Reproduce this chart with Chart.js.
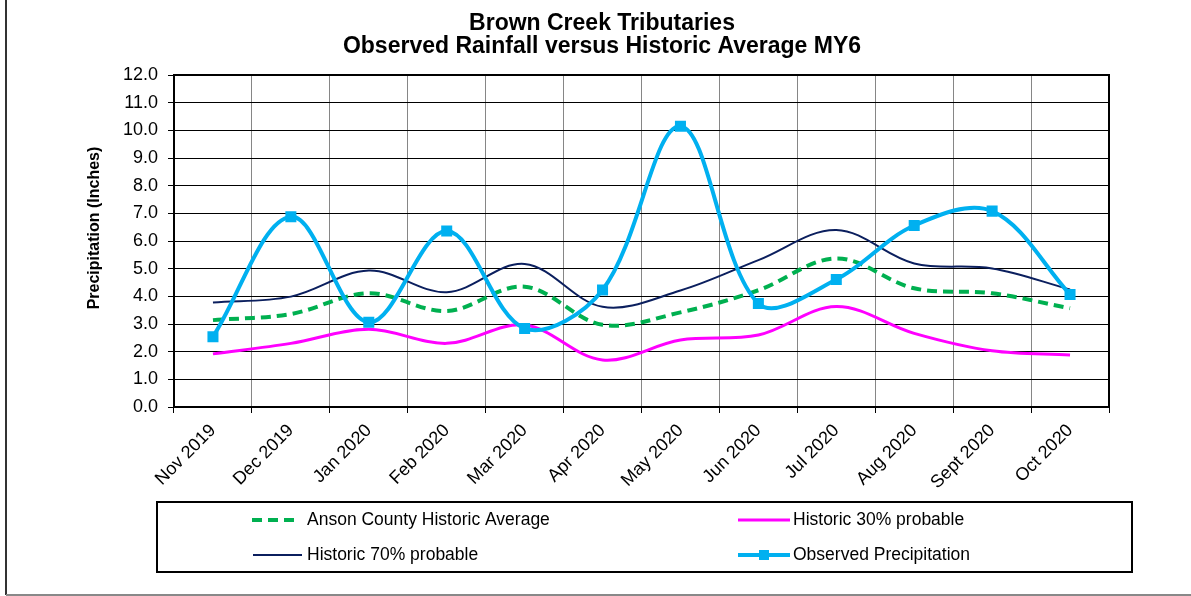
<!DOCTYPE html>
<html>
<head>
<meta charset="utf-8">
<title>Brown Creek Tributaries - Observed Rainfall versus Historic Average MY6</title>
<script src="https://cdn.jsdelivr.net/npm/chart.js@4.4.1/dist/chart.umd.min.js"></script>
<style>
  html, body { margin: 0; padding: 0; background: #ffffff; }
  #wrap { width: 1191px; height: 596px; position: relative; }
</style>
</head>
<body>
<div id="wrap"><canvas id="rainChart" width="1191" height="596"></canvas></div>
<script>
// Monthly precipitation, inches
const months = ['Nov 2019', 'Dec 2019', 'Jan 2020', 'Feb 2020', 'Mar 2020', 'Apr 2020',
                'May 2020', 'Jun 2020', 'Jul 2020', 'Aug 2020', 'Sept 2020', 'Oct 2020'];
const historicAverage = [3.14, 3.36, 4.11, 3.47, 4.35, 2.97, 3.42, 4.22, 5.37, 4.29, 4.11, 3.57];
const historic30 = [1.92, 2.30, 2.81, 2.30, 2.96, 1.70, 2.42, 2.60, 3.63, 2.66, 2.03, 1.88];
const historic70 = [3.78, 3.99, 4.93, 4.15, 5.17, 3.62, 4.21, 5.31, 6.40, 5.19, 5.01, 4.25];
const observed = [2.54, 6.88, 3.06, 6.36, 2.84, 4.23, 10.15, 3.74, 4.61, 6.56, 7.08, 4.07];

const yMin = 0, yMax = 12, yStep = 1;

const chartTitle = ['Brown Creek Tributaries', 'Observed Rainfall versus Historic Average MY6'];
const yAxisTitle = 'Precipitation (Inches)';

const FONT = '"Liberation Sans", Arial, sans-serif';

// Title, axis title, plot frame, outer frame and boxed two-column legend
const decorations = {
  id: 'decorations',
  beforeDraw(chart) {
    const ctx = chart.ctx;
    ctx.save();
    ctx.fillStyle = '#ffffff';
    ctx.fillRect(0, 0, chart.width, chart.height);
    ctx.restore();
  },
  afterDraw(chart) {
    const ctx = chart.ctx;
    const ca = chart.chartArea;
    ctx.save();

    // plot border
    ctx.strokeStyle = '#000000';
    ctx.lineWidth = 2;
    ctx.strokeRect(ca.left, ca.top, ca.right - ca.left, ca.bottom - ca.top);

    // outer frame (left and bottom edges)
    ctx.lineWidth = 2;
    ctx.strokeStyle = '#333333';
    ctx.beginPath(); ctx.moveTo(6, 0); ctx.lineTo(6, 595); ctx.stroke();
    ctx.strokeStyle = '#888888';
    ctx.beginPath(); ctx.moveTo(6, 595); ctx.lineTo(chart.width, 595); ctx.stroke();

    // chart title
    ctx.fillStyle = '#000000';
    ctx.font = 'bold 23px ' + FONT;
    ctx.textAlign = 'center';
    ctx.textBaseline = 'alphabetic';
    ctx.fillText(chartTitle[0], 602, 30);
    ctx.fillText(chartTitle[1], 602, 53);

    // y axis title
    ctx.save();
    ctx.translate(95, 228);
    ctx.rotate(-Math.PI / 2);
    ctx.font = 'bold 16px ' + FONT;
    ctx.textBaseline = 'middle';
    ctx.fillText(yAxisTitle, 0, 0);
    ctx.restore();

    // legend box
    ctx.lineWidth = 2;
    ctx.strokeStyle = '#000000';
    ctx.strokeRect(157, 502, 975, 70);

    const entries = [
      { ds: 0, x0: 252, x1: 299, tx: 307, y: 520 },
      { ds: 1, x0: 738, x1: 790, tx: 793, y: 520 },
      { ds: 2, x0: 253, x1: 302, tx: 307, y: 555 },
      { ds: 3, x0: 738, x1: 790, tx: 793, y: 555 }
    ];
    ctx.font = '17.5px ' + FONT;
    ctx.textAlign = 'left';
    ctx.textBaseline = 'middle';
    entries.forEach(e => {
      const d = chart.data.datasets[e.ds];
      ctx.save();
      ctx.strokeStyle = d.borderColor;
      ctx.lineWidth = d.borderWidth;
      ctx.setLineDash(d.borderDash || []);
      ctx.beginPath();
      ctx.moveTo(e.x0, e.y);
      ctx.lineTo(e.x1, e.y);
      ctx.stroke();
      ctx.restore();
      if (d.pointRadius > 0) {
        ctx.fillStyle = d.pointBackgroundColor;
        const s = 10;
        const cx = (e.x0 + e.x1) / 2;
        ctx.fillRect(cx - s / 2, e.y - s / 2, s, s);
      }
      ctx.fillStyle = '#000000';
      ctx.fillText(d.label, e.tx, e.y);
    });

    ctx.restore();
  }
};

const ctxEl = document.getElementById('rainChart');
new Chart(ctxEl, {
  type: 'line',
  data: {
    labels: months,
    datasets: [
      {
        label: 'Anson County Historic Average',
        data: historicAverage,
        borderColor: '#00B050',
        backgroundColor: '#00B050',
        borderWidth: 4,
        borderDash: [10, 6],
        pointRadius: 0,
        tension: 0.35,
        order: 3
      },
      {
        label: 'Historic 30% probable',
        data: historic30,
        borderColor: '#FF00FF',
        backgroundColor: '#FF00FF',
        borderWidth: 3,
        pointRadius: 0,
        tension: 0.35,
        order: 2
      },
      {
        label: 'Historic 70% probable',
        data: historic70,
        borderColor: '#0B1F5E',
        backgroundColor: '#0B1F5E',
        borderWidth: 2,
        pointRadius: 0,
        tension: 0.35,
        order: 1
      },
      {
        label: 'Observed Precipitation',
        data: observed,
        borderColor: '#00B0F0',
        backgroundColor: '#00B0F0',
        pointBackgroundColor: '#00B0F0',
        pointBorderColor: '#00B0F0',
        borderWidth: 4,
        pointStyle: 'rect',
        pointRadius: 7.8,
        pointBorderWidth: 0,
        tension: 0.35,
        order: 0
      }
    ]
  },
  options: {
    responsive: false,
    animation: false,
    devicePixelRatio: 1,
    layout: { padding: { top: 75, left: 20, right: 82, bottom: 0 } },
    plugins: {
      legend: { display: false },
      title: { display: false },
      tooltip: { enabled: false }
    },
    scales: {
      x: {
        type: 'category',
        offset: true,
        grid: {
          offset: true,
          color: '#868686',
          lineWidth: 1,
          tickLength: 6,
          tickColor: '#000000',
          drawOnChartArea: true
        },
        border: { display: true, color: '#000000', width: 2 },
        ticks: {
          autoSkip: false,
          maxRotation: 45,
          minRotation: 45,
          padding: 7,
          color: '#000000',
          font: { family: FONT, size: 18 }
        },
        afterFit(scale) { scale.height = 189; }
      },
      y: {
        min: yMin,
        max: yMax,
        grid: {
          color: '#000000',
          lineWidth: 1,
          tickLength: 6,
          tickColor: '#000000'
        },
        border: { display: true, color: '#000000', width: 2 },
        ticks: {
          stepSize: yStep,
          padding: 10,
          color: '#000000',
          font: { family: FONT, size: 18 },
          callback: v => Number(v).toFixed(1)
        },
        afterFit(scale) { scale.width = 154; }
      }
    }
  },
  plugins: [decorations]
});
</script>
</body>
</html>
